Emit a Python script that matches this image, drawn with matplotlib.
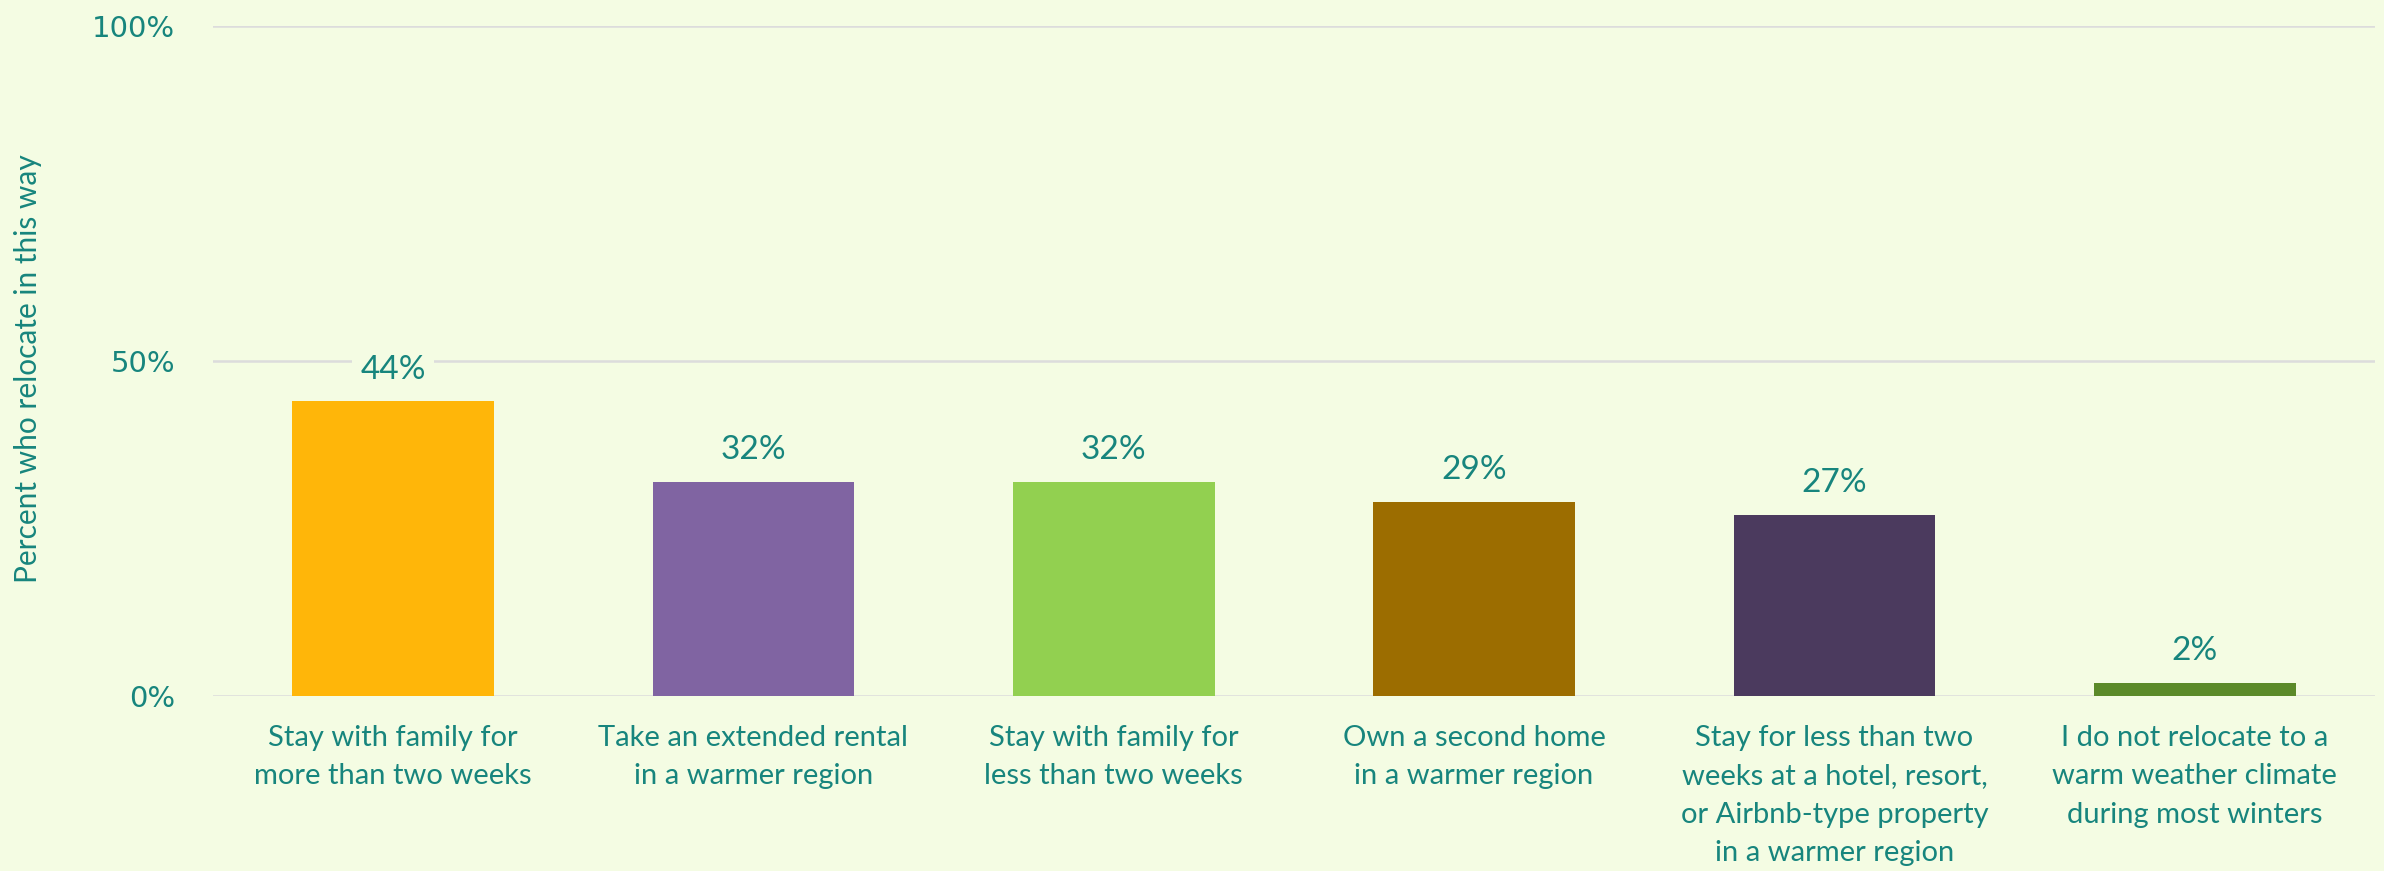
import matplotlib
matplotlib.use("Agg")
import matplotlib.pyplot as plt

categories = [
    "Stay with family for\nmore than two weeks",
    "Take an extended rental\nin a warmer region",
    "Stay with family for\nless than two weeks",
    "Own a second home\nin a warmer region",
    "Stay for less than two\nweeks at a hotel, resort,\nor Airbnb-type property\nin a warmer region",
    "I do not relocate to a\nwarm weather climate\nduring most winters",
]
values = [44, 32, 32, 29, 27, 2]
bar_colors = ["#FFB609", "#8064A2", "#92D050", "#9C6D00", "#4B3A5E", "#5B8A29"]
yticks = [0, 50, 100]
ytick_labels = ["0%", "50%", "100%"]

BG = "#F4FCE3"
TXT = "#17857D"
GRID = "#DCDCDC"

fig = plt.figure(figsize=(23.84, 8.71), dpi=100, facecolor=BG)
ax = fig.add_axes([0.0893, 0.2009, 0.9069, 0.7692], facecolor=BG)

x = list(range(len(categories)))
bars = ax.bar(x, values, width=0.56, color=bar_colors, zorder=3)

ax.set_xlim(-0.5, len(categories) - 0.5)
ax.set_ylim(0, 100)
ax.set_yticks(yticks)
ax.set_yticklabels(ytick_labels)
ax.set_xticks(x)
ax.set_xticklabels(categories, fontfamily="Lato", fontsize=21, color=TXT,
                   linespacing=1.58, va="top")
for t in ax.get_yticklabels():
    t.set_fontfamily("DejaVu Sans")
    t.set_fontsize(21)
    t.set_color(TXT)
ax.tick_params(axis="y", length=0, pad=27)
ax.tick_params(axis="x", length=0, pad=21)
ax.grid(axis="y", color=GRID, linewidth=1.8, zorder=0)
for s in ax.spines.values():
    s.set_visible(False)

for xi, v in zip(x, values):
    ax.annotate(f"{v}%", (xi, v), xytext=(0, 12), textcoords="offset points",
                ha="center", va="bottom", fontfamily="Lato", fontsize=24,
                color=TXT, zorder=4,
                bbox=dict(boxstyle="square,pad=0.25", facecolor=BG, edgecolor="none"))

ax.set_ylabel("Percent who relocate in this way", fontfamily="Lato",
              fontsize=21.5, color=TXT)
ax.yaxis.set_label_coords(-0.079, 0.489)

fig.savefig("out.png", dpi=100, facecolor=BG)
